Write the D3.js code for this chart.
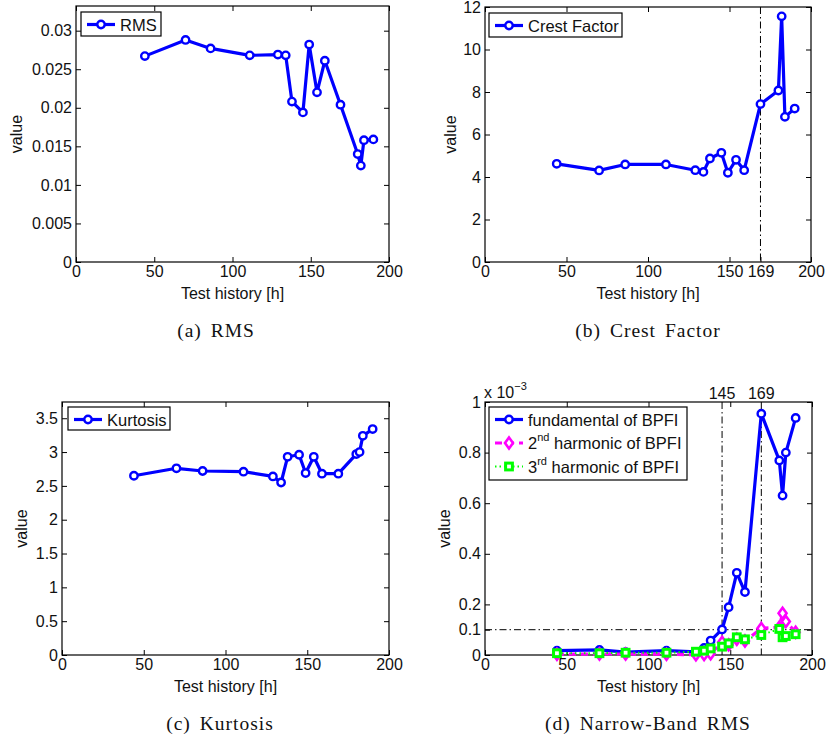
<!DOCTYPE html>
<html>
<head>
<meta charset="utf-8">
<script src="https://cdn.jsdelivr.net/npm/d3@7"></script>
<style>
	body { margin: 0; background: #fff; }
	svg { display: block; font-family: "Liberation Sans", Arial, sans-serif; }
	.caption { font-family: "Liberation Serif", "DejaVu Serif", serif; font-size: 19.5px; letter-spacing: 1px; word-spacing: 3px; }
</style>
</head>
<body>
<svg id="chart" width="827" height="738"></svg>
<script>
// test history [h], shared by all four panels
const hours = [44, 70, 86, 111, 129, 134, 138, 145, 149, 154, 159, 169, 180, 182, 184, 190];

const rmsValues = [0.0267, 0.0288, 0.0277, 0.0268, 0.0269, 0.0268, 0.0208, 0.0194, 0.0282, 0.0220, 0.0261, 0.0204, 0.0140, 0.0125, 0.0158, 0.0159];
const crestValues = [4.62, 4.31, 4.59, 4.59, 4.32, 4.24, 4.87, 5.14, 4.20, 4.81, 4.32, 7.43, 8.07, 11.56, 6.83, 7.22];
const kurtosisValues = [2.65, 2.76, 2.72, 2.71, 2.64, 2.55, 2.93, 2.96, 2.69, 2.93, 2.68, 2.68, 2.97, 3.00, 3.24, 3.34];

// narrow band RMS, in units of 1e-3
const fundamentalValues = [0.017, 0.020, 0.011, 0.017, 0.012, 0.028, 0.057, 0.101, 0.189, 0.325, 0.249, 0.954, 0.769, 0.630, 0.800, 0.937];
const secondValues = [0.003, 0.004, 0.004, 0.003, 0.001, 0.002, 0.005, 0.050, 0.040, 0.062, 0.055, 0.105, 0.110, 0.165, 0.132, 0.090];
const thirdValues = [0.007, 0.007, 0.009, 0.009, 0.013, 0.017, 0.026, 0.033, 0.046, 0.070, 0.062, 0.079, 0.103, 0.070, 0.075, 0.082];

const xTicks = [0, 50, 100, 150, 200];
const xTicksCrest = [0, 50, 100, 150, 169, 200];
const rmsTicks = [0, 0.005, 0.01, 0.015, 0.02, 0.025, 0.03];
const crestTicks = [0, 2, 4, 6, 8, 10, 12];
const kurtosisTicks = [0, 0.5, 1, 1.5, 2, 2.5, 3, 3.5];
const nbTicks = [0, 0.1, 0.2, 0.4, 0.6, 0.8, 1];
const markerLines = [145, 169];

const svg = d3.select("#chart");
const blue = "#0000ff", magenta = "#ff00ff", green = "#00ff00";
const fs = 16;

function drawPanel(p) {
	const g = svg.append("g");
	const x = d3.scaleLinear().domain([0, 200]).range([p.left, p.right]);
	const y = d3.scaleLinear().domain(p.ydomain).range([p.bottom, p.top]);
	const w = p.right - p.left, h = p.bottom - p.top;

	// axes with inward ticks on all four sides
	const ax = [
		[d3.axisBottom(x).tickValues(p.xticks).tickFormat(d => d), `translate(0,${p.bottom})`, true],
		[d3.axisTop(x).tickValues(xTicks).tickFormat(""), `translate(0,${p.top})`, false],
		[d3.axisLeft(y).tickValues(p.yticks).tickFormat(d => d), `translate(${p.left},0)`, true],
		[d3.axisRight(y).tickValues(p.yticks).tickFormat(""), `translate(${p.right},0)`, false]
	];
	ax.forEach(([a, tr, lab]) => {
		const s = g.append("g").attr("transform", tr)
			.call(a.tickSizeInner(-5).tickSizeOuter(0).tickPadding(lab ? 4 : 0));
		s.select(".domain").remove();
		s.selectAll(".tick line").attr("stroke", "#000");
		s.selectAll(".tick text").attr("font-size", fs).attr("fill", "#111")
			.attr("font-family", "Liberation Sans, Arial, sans-serif");
	});
	g.append("rect").attr("x", p.left).attr("y", p.top).attr("width", w).attr("height", h)
		.attr("fill", "none").attr("stroke", "#000").attr("stroke-width", 1.2);

	// reference lines
	(p.vlines || []).forEach(v => {
		g.append("line").attr("x1", x(v)).attr("x2", x(v)).attr("y1", p.top).attr("y2", p.bottom)
			.attr("stroke", "#000").attr("stroke-width", 1).attr("stroke-dasharray", "7,3,1.5,3");
	});
	(p.hlines || []).forEach(v => {
		g.append("line").attr("x1", p.left).attr("x2", p.right).attr("y1", y(v)).attr("y2", y(v))
			.attr("stroke", "#000").attr("stroke-width", 1).attr("stroke-dasharray", "7,3,1.5,3");
	});

	const line = d3.line().x(d => x(d[0])).y(d => y(d[1]));
	p.series.forEach(s => {
		const pts = hours.map((hh, i) => [hh, s.values[i]]);
		g.append("path").attr("d", line(pts)).attr("fill", "none")
			.attr("stroke", s.color).attr("stroke-width", s.width || 3.2)
			.attr("stroke-dasharray", s.dash || null).attr("stroke-linejoin", "round");
		pts.forEach(d => drawMarker(g, s, x(d[0]), y(d[1])));
	});

	// legend
	const lg = p.legend;
	g.append("rect").attr("x", lg.x).attr("y", lg.y).attr("width", lg.w).attr("height", lg.h)
		.attr("fill", "#fff").attr("stroke", "#000").attr("stroke-width", 1.2);
	p.series.forEach((s, i) => {
		const cy = lg.y + 12.5 + i * 23.5;
		g.append("line").attr("x1", lg.x + 6).attr("x2", lg.x + 34).attr("y1", cy).attr("y2", cy)
			.attr("stroke", s.color).attr("stroke-width", s.width || 3.2).attr("stroke-dasharray", s.dash || null);
		drawMarker(g, s, lg.x + 20, cy);
		const t = g.append("text").attr("x", lg.x + 39).attr("y", cy + 6).attr("font-size", fs + 0.5).attr("fill", "#111");
		if (s.sup) {
			t.append("tspan").text(s.name[0]);
			t.append("tspan").text(s.sup).attr("font-size", 11).attr("dy", -8);
			t.append("tspan").text(s.name.slice(1)).attr("dy", 8);
		} else {
			t.text(s.name);
		}
	});

	// labels
	g.append("text").attr("x", (p.left + p.right) / 2).attr("y", p.bottom + 37)
		.attr("text-anchor", "middle").attr("font-size", fs).attr("fill", "#111").text("Test history [h]");
	g.append("text").attr("transform", `translate(${p.ylabelX},${(p.top + p.bottom) / 2}) rotate(-90)`)
		.attr("text-anchor", "middle").attr("font-size", fs).attr("fill", "#111").text("value");
	g.append("text").attr("class", "caption").attr("x", p.captionX).attr("y", p.bottom + 75)
		.attr("text-anchor", "middle").attr("fill", "#111").text(p.caption);
	return { g, x, y };
}

function drawMarker(g, s, cx, cy) {
	if (s.marker == "circle") {
		g.append("circle").attr("cx", cx).attr("cy", cy).attr("r", 3.7)
			.attr("fill", "#fff").attr("stroke", s.color).attr("stroke-width", 2.4);
	} else if (s.marker == "diamond") {
		g.append("path").attr("d", `M${cx},${cy - 5.5}L${cx + 4},${cy}L${cx},${cy + 5.5}L${cx - 4},${cy}Z`)
			.attr("fill", "#fff").attr("stroke", s.color).attr("stroke-width", 2.6);
	} else {
		g.append("rect").attr("x", cx - 3.4).attr("y", cy - 3.4).attr("width", 6.8).attr("height", 6.8)
			.attr("fill", "#fff").attr("stroke", s.color).attr("stroke-width", 3);
	}
}

drawPanel({
	left: 76, right: 389, top: 6, bottom: 262, ydomain: [0, 0.0332],
	xticks: xTicks, yticks: rmsTicks, ylabelX: 22, captionX: 216, caption: "(a) RMS",
	series: [{ name: "RMS", values: rmsValues, color: blue, marker: "circle" }],
	legend: { x: 81, y: 12, w: 80, h: 24 }
});

drawPanel({
	left: 485, right: 811, top: 7, bottom: 262, ydomain: [0, 12],
	xticks: xTicksCrest, yticks: crestTicks, ylabelX: 456, captionX: 648, caption: "(b) Crest Factor",
	vlines: [169],
	series: [{ name: "Crest Factor", values: crestValues, color: blue, marker: "circle" }],
	legend: { x: 489, y: 13, w: 133, h: 24 }
});

drawPanel({
	left: 62, right: 389, top: 402, bottom: 655, ydomain: [0, 3.74],
	xticks: xTicks, yticks: kurtosisTicks, ylabelX: 27, captionX: 220, caption: "(c) Kurtosis",
	series: [{ name: "Kurtosis", values: kurtosisValues, color: blue, marker: "circle" }],
	legend: { x: 68, y: 407, w: 102, h: 23 }
});

const nb = drawPanel({
	left: 485, right: 812, top: 402, bottom: 655, ydomain: [0, 1],
	xticks: xTicks, yticks: nbTicks, ylabelX: 450, captionX: 648, caption: "(d) Narrow-Band RMS",
	vlines: markerLines, hlines: [0.1],
	series: [
		{ name: "fundamental of BPFI", values: fundamentalValues, color: blue, marker: "circle" },
		{ name: "2 harmonic of BPFI", sup: "nd", values: secondValues, color: magenta, marker: "diamond", dash: "7,5" },
		{ name: "3 harmonic of BPFI", sup: "rd", values: thirdValues, color: green, marker: "square", dash: "1.5,3", width: 2 }
	],
	legend: { x: 489, y: 407, w: 198, h: 73 }
});

// top labels for the marked hours and exponent
nb.g.selectAll("text.mark").data(markerLines).enter().append("text")
	.attr("x", d => nb.x(d)).attr("y", 399).attr("text-anchor", "middle")
	.attr("font-size", fs).attr("fill", "#111").text(d => d);
const ex = nb.g.append("text").attr("x", 484).attr("y", 398).attr("font-size", fs).attr("fill", "#111");
ex.append("tspan").text("x 10");
ex.append("tspan").text("\u22123").attr("font-size", 11).attr("dy", -8);
</script>
</body>
</html>
